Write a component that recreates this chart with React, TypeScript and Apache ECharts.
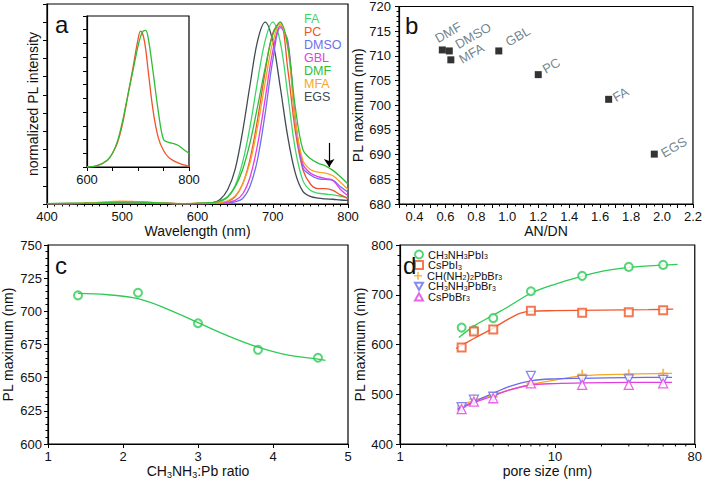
import React, { useEffect, useRef } from 'react';
import * as echarts from 'echarts';

const FONT = 'Liberation Sans, Arial, Helvetica, sans-serif';

// ---------- Panel a: normalized PL spectra ----------
const aWave = [400, 450, 480, 500, 520, 540, 560, 580, 600, 620, 630, 640, 650, 660, 670, 680, 690, 700, 710, 720, 730, 740, 750, 760, 770, 780, 790, 800];
const aNames = ['FA', 'PC', 'DMSO', 'GBL', 'DMF', 'MFA', 'EGS'];
const aFA = [0.002, 0.004, 0.01, 0.012, 0.011, 0.008, 0.004, 0.002, 0.003, 0.006, 0.012, 0.037, 0.10, 0.23, 0.43, 0.68, 0.90, 1.0, 0.89, 0.60, 0.30, 0.13, 0.075, 0.06, 0.055, 0.05, 0.042, 0.035];
const aPC = [0.002, 0.003, 0.006, 0.008, 0.008, 0.006, 0.003, 0.002, 0.002, 0.004, 0.006, 0.015, 0.04, 0.11, 0.25, 0.47, 0.73, 0.94, 1.0, 0.74, 0.40, 0.19, 0.11, 0.085, 0.085, 0.075, 0.05, 0.03];
const aDMSO = [0.002, 0.003, 0.005, 0.006, 0.006, 0.005, 0.003, 0.002, 0.002, 0.003, 0.004, 0.006, 0.012, 0.03, 0.10, 0.25, 0.5, 0.79, 0.97, 0.90, 0.46, 0.20, 0.16, 0.14, 0.135, 0.13, 0.095, 0.065];
const aGBL = [0.002, 0.003, 0.006, 0.008, 0.008, 0.006, 0.003, 0.002, 0.002, 0.003, 0.005, 0.01, 0.02, 0.055, 0.15, 0.33, 0.58, 0.84, 0.98, 0.88, 0.46, 0.22, 0.17, 0.15, 0.14, 0.13, 0.08, 0.045];
const aDMF = [0.002, 0.004, 0.008, 0.01, 0.01, 0.007, 0.004, 0.002, 0.004, 0.008, 0.017, 0.04, 0.094, 0.19, 0.34, 0.54, 0.75, 0.93, 1.0, 0.87, 0.53, 0.30, 0.25, 0.225, 0.21, 0.185, 0.15, 0.11];
const aMFA = [0.002, 0.005, 0.012, 0.015, 0.013, 0.009, 0.004, 0.002, 0.004, 0.006, 0.008, 0.018, 0.045, 0.11, 0.23, 0.43, 0.67, 0.89, 0.99, 0.86, 0.46, 0.24, 0.19, 0.175, 0.17, 0.155, 0.12, 0.08];
const aEGS = [0.002, 0.004, 0.008, 0.01, 0.009, 0.006, 0.003, 0.002, 0.003, 0.007, 0.025, 0.078, 0.19, 0.40, 0.66, 0.90, 1.0, 0.895, 0.642, 0.369, 0.17, 0.07, 0.042, 0.032, 0.028, 0.026, 0.022, 0.02];
const aArrow = { wave: 775, from: 0.336, to: 0.204 };

// inset of panel a
const iWave = [600, 620, 640, 650, 660, 670, 680, 690, 700, 705, 710, 715, 720, 730, 740, 750, 760, 770, 780, 790, 800];
const iPC = [0, 0.01, 0.05, 0.1, 0.18, 0.32, 0.52, 0.72, 0.93, 0.99, 0.96, 0.86, 0.70, 0.40, 0.21, 0.12, 0.07, 0.045, 0.028, 0.015, 0.005];
const iDMF = [0, 0.01, 0.05, 0.1, 0.19, 0.34, 0.52, 0.70, 0.88, 0.95, 0.99, 0.995, 0.94, 0.68, 0.40, 0.20, 0.18, 0.17, 0.155, 0.125, 0.10];

// ---------- Panel b ----------
const bSolvents = ['DMF', 'DMSO', 'MFA', 'GBL', 'PC', 'FA', 'EGS'];
const bANDN = [0.58, 0.625, 0.635, 0.945, 1.2, 1.655, 1.95];
const bPLmax = [711.2, 711, 709.2, 711, 706.2, 701.2, 690.1];

// ---------- Panel c ----------
const cRatio = [1.4, 2.2, 3.0, 3.8, 4.6];
const cPLmax = [712, 714, 691, 671, 665];
const cFitX = [1.4, 1.8, 2.2, 2.6, 3.0, 3.4, 3.8, 4.2, 4.6, 4.7];
const cFitY = [713.5, 712.5, 709.5, 701.5, 691.5, 681.5, 673, 667, 664, 663];

// ---------- Panel d ----------
const dPore = [2.5, 3, 4, 7, 15, 30, 50];
const dMAPbI3 = [634, 629, 653, 707, 738, 756, 760];
const dCsPbI3 = [594, 626, 630, 668, 664, 665, 669];
const dFAPbBr3 = [474, 490, 495, 522, 540, 541, 542];
const dMAPbBr3 = [474, 489, 495, 537, 529, 530, 529];
const dCsPbBr3 = [470, 485, 492, 522, 519, 519, 522];
const dFitMAPbI3X = [2.4, 3, 4, 5, 7, 10, 15, 20, 30, 40, 62];
const dFitMAPbI3Y = [614, 637, 659, 676, 703, 721, 737, 747, 755, 758, 761];
const dFitCsPbI3X = [2.3, 3, 4, 5, 6, 7, 10, 20, 40, 58];
const dFitCsPbI3Y = [592, 612, 633, 651, 663, 667, 668, 669, 670, 671];
const dFitFAPbBr3X = [2.35, 3, 4, 5, 7, 10, 15, 30, 57];
const dFitFAPbBr3Y = [476, 487, 498.5, 508, 520, 528.6, 537, 540.5, 542];
const dFitMAPbBr3X = [2.35, 3, 4, 5, 7, 10, 15, 30, 57];
const dFitMAPbBr3Y = [470, 485, 502, 515, 527, 531, 532, 533.5, 534];
const dFitCsPbBr3X = [2.35, 3, 4, 5, 7, 10, 15, 30, 57];
const dFitCsPbBr3Y = [468, 483, 496.5, 508, 518.6, 521.5, 523, 524, 524];
const dMinorTicks = [2, 3, 4, 5, 6, 7, 8, 9, 20, 30, 40, 50, 60, 70];
const dLegendNames = ['CH3NH3PbI3', 'CsPbI3', 'CH(NH2)2PbBr3', 'CH3NH3PbBr3', 'CsPbBr3'];

// ---------- styles ----------
const aColor: Record<string, string> = {
  FA: '#3fd46a', PC: '#f0532b', DMSO: '#6f6ff0', GBL: '#e63ce6', DMF: '#2fbd34', MFA: '#f6a624', EGS: '#3f4b52',
};
const bLabelOffset: Record<string, number[]> = {
  DMF: [-5, -15], DMSO: [4, -4], MFA: [3, 2], GBL: [6, -6], PC: [2, -4], FA: [0, -1], EGS: [2, 1],
};
const dColor = ['#2ecb56', '#f0582a', '#f5a623', '#6a6aee', '#e23fe2'];
const dSymbol = [
  'emptyCircle',
  'emptyRect',
  'path://M4,0H6V4H10V6H6V10H4V6H0V4H4Z',
  'path://M0,0L10,0L5,9Z',
  'path://M5,0L10,9L0,9Z',
];
const dLegendTop = 249;
const dLegendStep = 10.6;

const pairs = (xs: number[], ys: number[]) => xs.map((x, i) => [x, ys[i]]);

const subRich = (s: string) =>
  s.replace(/(\d)/g, '}{s|$1}{n|').replace(/^/, '{n|').concat('}').replace(/\{n\|\}/g, '');

const axisBase = (extra: any) => ({
  type: 'value',
  nameLocation: 'middle',
  axisLine: { show: true, onZero: false, lineStyle: { color: '#000', width: 1.2 } },
  axisTick: { show: true, length: 4, lineStyle: { color: '#000', width: 1 } },
  minorTick: { show: false, length: 2.5, lineStyle: { color: '#000', width: 1 } },
  splitLine: { show: false },
  minorSplitLine: { show: false },
  axisLabel: { color: '#111', fontSize: 13, fontFamily: FONT, margin: 6 },
  nameTextStyle: { color: '#111', fontSize: 14, fontFamily: FONT },
  ...extra,
});

function buildOption() {
  const aSeriesData: Record<string, number[]> = {
    FA: aFA, PC: aPC, DMSO: aDMSO, GBL: aGBL, DMF: aDMF, MFA: aMFA, EGS: aEGS,
  };
  const drawOrder = ['EGS', 'FA', 'PC', 'DMSO', 'GBL', 'MFA', 'DMF'];
  const aSeries = drawOrder.map((n) => ({
    type: 'line', name: n, xAxisIndex: 0, yAxisIndex: 0,
    data: pairs(aWave, aSeriesData[n]), showSymbol: false, smooth: 0.35,
    lineStyle: { width: 1.3, color: aColor[n] }, itemStyle: { color: aColor[n] },
    ...(n === 'DMF'
      ? {
          markLine: {
            silent: true, symbol: ['none', 'arrow'], symbolSize: 8,
            lineStyle: { color: '#000', width: 1.2, type: 'solid' }, label: { show: false },
            itemStyle: { color: '#000' },
            data: [[{ coord: [aArrow.wave, aArrow.from] }, { coord: [aArrow.wave, aArrow.to] }]],
          },
        }
      : {}),
  }));

  const insetSeries = [
    { name: 'inset PC', data: pairs(iWave, iPC), color: aColor.PC },
    { name: 'inset DMF', data: pairs(iWave, iDMF), color: aColor.DMF },
  ].map((s) => ({
    type: 'line', name: s.name, xAxisIndex: 1, yAxisIndex: 1, data: s.data,
    showSymbol: false, smooth: 0.35, lineStyle: { width: 1.3, color: s.color }, itemStyle: { color: s.color },
  }));

  const bSeries = {
    type: 'scatter', name: 'b', xAxisIndex: 2, yAxisIndex: 2, symbol: 'rect', symbolSize: 7,
    itemStyle: { color: '#000' },
    label: {
      show: true, formatter: '{b}', position: 'right', distance: 2, rotate: 30, align: 'left',
      verticalAlign: 'middle', color: '#4f6670', fontSize: 13, fontFamily: FONT,
    },
    data: bSolvents.map((n, i) => ({ name: n, value: [bANDN[i], bPLmax[i]], label: { offset: bLabelOffset[n] } })),
  };

  const cSeries = [
    {
      type: 'line', name: 'c fit', xAxisIndex: 3, yAxisIndex: 3, data: pairs(cFitX, cFitY), showSymbol: false,
      smooth: 0.4, lineStyle: { width: 1.3, color: '#2ecb56' },
    },
    {
      type: 'scatter', name: 'c data', xAxisIndex: 3, yAxisIndex: 3, data: pairs(cRatio, cPLmax),
      symbol: 'emptyCircle', symbolSize: 8, itemStyle: { color: '#2ecb56', borderWidth: 1.3 },
    },
  ];

  const dVals = [dMAPbI3, dCsPbI3, dFAPbBr3, dMAPbBr3, dCsPbBr3];
  const dFits = [
    [dFitMAPbI3X, dFitMAPbI3Y], [dFitCsPbI3X, dFitCsPbI3Y], [dFitFAPbBr3X, dFitFAPbBr3Y],
    [dFitMAPbBr3X, dFitMAPbBr3Y], [dFitCsPbBr3X, dFitCsPbBr3Y],
  ];
  const dLineSeries = dFits.map((f, k) => ({
    type: 'line', name: 'fit ' + k, xAxisIndex: 4, yAxisIndex: 4, data: pairs(f[0], f[1]), showSymbol: false,
    smooth: 0.35, lineStyle: { width: 1.3, color: dColor[k] }, itemStyle: { color: dColor[k] },
  }));
  const dScatter = dVals.map((v, k) => {
    const filled = k === 2;
    return {
      type: 'scatter', name: dLegendNames[k], xAxisIndex: 4, yAxisIndex: 4, data: pairs(dPore, v),
      symbol: dSymbol[k], symbolSize: k <= 1 ? 8 : 9,
      itemStyle: filled
        ? { color: dColor[k] }
        : { color: k <= 1 ? dColor[k] : '#fff', borderColor: dColor[k], borderWidth: 1.3 },
      z: 3,
    };
  });
  const dMinor = {
    type: 'custom', name: 'minor', xAxisIndex: 4, yAxisIndex: 4, clip: false, silent: true,
    data: dMinorTicks.map((t) => [t, 400]),
    renderItem: (_p: any, api: any) => {
      const pt = api.coord([api.value(0), api.value(1)]);
      return { type: 'line', shape: { x1: pt[0], y1: pt[1], x2: pt[0], y2: pt[1] + 2.5 }, style: { stroke: '#000', lineWidth: 1 } };
    },
  };

  const richStyles = {
    n: { fontSize: 11, fontFamily: FONT, color: '#111', lineHeight: 10 },
    s: { fontSize: 7, fontFamily: FONT, color: '#111', lineHeight: 6, padding: [4, 0, 0, 0] },
  };

  const dLegends = dLegendNames.map((n, k) => ({
    orient: 'vertical', left: 414, top: dLegendTop + k * dLegendStep, padding: 0, itemGap: 0, itemWidth: 8, itemHeight: 8,
    selectedMode: false, data: [n],
    formatter: (name: string) => subRich(name),
    textStyle: { fontSize: 11, fontFamily: FONT, color: '#111', lineHeight: 10, rich: richStyles },
  }));

  return {
    animation: false,
    textStyle: { fontFamily: FONT },
    title: [
      { text: 'a', left: 55, top: 12, padding: 0, textStyle: { fontSize: 24, fontWeight: 'normal', color: '#111', fontFamily: FONT } },
      { text: 'b', left: 405, top: 13, padding: 0, textStyle: { fontSize: 24, fontWeight: 'normal', color: '#111', fontFamily: FONT } },
      { text: 'c', left: 55, top: 253, padding: 0, textStyle: { fontSize: 24, fontWeight: 'normal', color: '#111', fontFamily: FONT } },
      { text: 'd', left: 403, top: 253, padding: 0, textStyle: { fontSize: 24, fontWeight: 'normal', color: '#111', fontFamily: FONT } },
    ],
    legend: [
      {
        orient: 'vertical', left: 299, top: 12, padding: 0, itemGap: 0, itemWidth: 0, itemHeight: 12.2,
        selectedMode: false, icon: 'none',
        data: aNames.map((n) => ({ name: n, textStyle: { color: aColor[n] } })),
        textStyle: { fontSize: 12.5, fontFamily: FONT, lineHeight: 12.2 },
      },
      ...dLegends,
    ],
    grid: [
      { left: 47, top: 4, width: 301, height: 200, show: true, borderColor: '#000', borderWidth: 1.2 },
      { left: 87, top: 16, width: 102, height: 151, show: true, borderColor: '#000', borderWidth: 1.2 },
      { left: 399, top: 6, width: 299, height: 198, show: true, borderColor: '#000', borderWidth: 1.2 },
      { left: 47, top: 245, width: 301, height: 199, show: true, borderColor: '#000', borderWidth: 1.2 },
      { left: 400, top: 245, width: 298, height: 199, show: true, borderColor: '#000', borderWidth: 1.2 },
    ],
    xAxis: [
      axisBase({ gridIndex: 0, min: 400, max: 800, interval: 100, name: 'Wavelength (nm)', nameGap: 18,
        minorTick: { show: true, splitNumber: 10, length: 2.5, lineStyle: { color: '#000' } } }),
      axisBase({ gridIndex: 1, min: 600, max: 800, interval: 50,
        axisLabel: { color: '#111', fontSize: 13, fontFamily: FONT, margin: 6, formatter: (v: number) => (v === 600 || v === 800 ? String(v) : '') } }),
      axisBase({ gridIndex: 2, min: 0.3, max: 2.2, interval: 0.1, name: 'AN/DN', nameGap: 19,
        minorTick: { show: true, splitNumber: 2, length: 2.5, lineStyle: { color: '#000' } },
        axisLabel: { color: '#111', fontSize: 13, fontFamily: FONT, margin: 6,
          formatter: (v: number) => (Math.round(v * 10) % 2 === 0 ? v.toFixed(1) : '') } }),
      axisBase({ gridIndex: 3, min: 1, max: 5, interval: 1, name: subRich('CH3NH3') + '{n|:Pb ratio}', nameGap: 19,
        nameTextStyle: { color: '#111', fontSize: 14, fontFamily: FONT,
          rich: { n: { fontSize: 14, fontFamily: FONT, color: '#111' }, s: { fontSize: 9, fontFamily: FONT, color: '#111', padding: [7, 0, 0, 0] } } } }),
      axisBase({ gridIndex: 4, type: 'log', logBase: 10, min: 1, max: 80, name: 'pore size (nm)', nameGap: 19,
        axisLabel: { color: '#111', fontSize: 13, fontFamily: FONT, margin: 6, formatter: (v: number) => String(Math.round(v)) } }),
    ],
    yAxis: [
      axisBase({ gridIndex: 0, min: 0, max: 1.1, interval: 0.1, name: 'normalized PL intensity', nameGap: 7,
        axisLabel: { show: false } }),
      axisBase({ gridIndex: 1, min: 0, max: 1.1, interval: 0.1, axisLabel: { show: false } }),
      axisBase({ gridIndex: 2, min: 680, max: 720, interval: 5, name: 'PL maximum (nm)', nameGap: 30,
        minorTick: { show: true, splitNumber: 5, length: 2.5, lineStyle: { color: '#000' } },
        axisLabel: { color: '#111', fontSize: 13, fontFamily: FONT, margin: 8 } }),
      axisBase({ gridIndex: 3, min: 600, max: 750, interval: 25, name: 'PL maximum (nm)', nameGap: 33,
        minorTick: { show: true, splitNumber: 5, length: 2.5, lineStyle: { color: '#000' } },
        axisLabel: { color: '#111', fontSize: 13, fontFamily: FONT, margin: 6 } }),
      axisBase({ gridIndex: 4, min: 400, max: 800, interval: 100, name: 'PL maximum (nm)', nameGap: 31,
        minorTick: { show: true, splitNumber: 5, length: 2.5, lineStyle: { color: '#000' } },
        axisLabel: { color: '#111', fontSize: 13, fontFamily: FONT, margin: 7 } }),
    ],
    series: [...aSeries, ...insetSeries, bSeries, ...cSeries, ...dLineSeries, ...dScatter, dMinor],
  };
}

export default function App() {
  const ref = useRef<HTMLDivElement>(null);
  useEffect(() => {
    if (!ref.current) return;
    const chart = echarts.init(ref.current, undefined, { renderer: 'svg' });
    chart.setOption(buildOption() as any);
    return () => chart.dispose();
  }, []);
  return (
    <div
      ref={ref}
      style={{ position: 'fixed', left: 0, top: 0, width: 705, height: 481, background: '#fff' }}
    />
  );
}
